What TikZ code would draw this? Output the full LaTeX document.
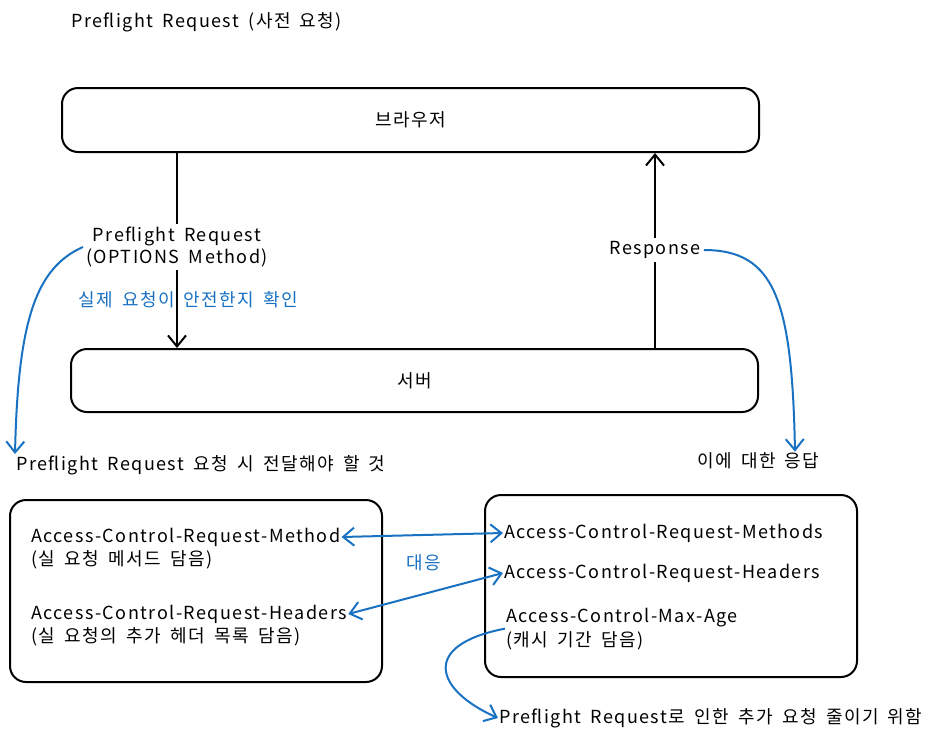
\documentclass[tikz,border=0pt]{standalone}
\usepackage{fontspec}
\setmainfont{Noto Sans CJK KR}[LetterSpace=8,WordSpace=1.7]
\usetikzlibrary{arrows.meta}
\definecolor{exblue}{HTML}{1971C2}
\begin{document}
\begin{tikzpicture}[x=1pt,y=-1pt]
\tikzset{box/.style = {draw, line width=2pt, rounded corners=16pt, inner sep=0pt},
  txt/.style = {anchor=west, inner sep=1pt, font=\fontsize{18}{21}\selectfont},
  lbl/.style = {fill=white, align=center, inner sep=3pt, font=\fontsize{18}{22}\selectfont},
  flow/.style = {line width=2pt, -{Straight Barb[length=11pt,width=18pt]}},
  note/.style = {exblue, line width=2pt, -{Straight Barb[length=11pt,width=18pt]}},
  both/.style = {exblue, line width=2pt, {Straight Barb[length=11pt,width=18pt]}-{Straight Barb[length=11pt,width=18pt]}}}
\useasboundingbox (0,0) rectangle (943,740);
\node[txt] (title) at (70,22) {Preflight Request (사전 요청)};
\node[box, minimum width=697pt, minimum height=64pt, font=\fontsize{18}{21}\selectfont] (browser) at (410.5,120) {브라우저};
\node[box, minimum width=687pt, minimum height=63pt, font=\fontsize{18}{21}\selectfont] (server) at (414.5,380.5) {서버};
\node[txt, exblue] (check) at (77,300) {실제 요청이 안전한지 확인};
\node[lbl] (req) at (177,247) {Preflight Request\\(OPTIONS Method)};
\node[lbl] (resp) at (655,250) {Response};
\draw[line width=2pt] (browser.south -| req) -- (req.north);
\draw[flow] (req.south) -- (server.north -| req);
\draw[line width=2pt] (server.north -| resp) -- (resp.south);
\draw[flow] (resp.north) -- (browser.south -| resp);
\node[txt] (send) at (15,465) {Preflight Request 요청 시 전달해야 할 것};
\node[txt] (answer) at (696,461) {이에 대한 응답};
\draw[note] (req.west) .. controls (36,268) and (18,320) .. (send.north west);
\draw[note] (resp.east) .. controls (775,250) and (792,300) .. (answer.north -| 795,0);
% request headers
\node[box, minimum width=372pt, minimum height=182pt] (ask) at (196,591) {};
\node[txt] (am) at (30,537) {Access-Control-Request-Method};
\node[txt] (am2) at (30,560) {(실 요청 메서드 담음)};
\node[txt] (ah) at (30,614) {Access-Control-Request-Headers};
\node[txt] (ah2) at (30,637) {(실 요청의 추가 헤더 목록 담음)};
% response headers
\node[box, minimum width=372pt, minimum height=182pt] (give) at (671,586) {};
\node[txt] (gm) at (503,533) {Access-Control-Request-Methods};
\node[txt] (gh) at (503,573) {Access-Control-Request-Headers};
\node[txt] (ga) at (505,618) {Access-Control-Max-Age};
\node[txt] (ga2) at (505,641) {(캐시 기간 담음)};
\node[txt, exblue] (match) at (405,563) {대응};
\draw[both] (am.east) -- (gm.west);
\draw[both] (ah.east) -- (gh.west);
\node[txt] (cache) at (498,718) {Preflight Request로 인한 추가 요청 줄이기 위함};
\draw[note] (ga.south west) .. controls (420,645) and (435,690) .. (cache.west);
\end{tikzpicture}
\end{document}
